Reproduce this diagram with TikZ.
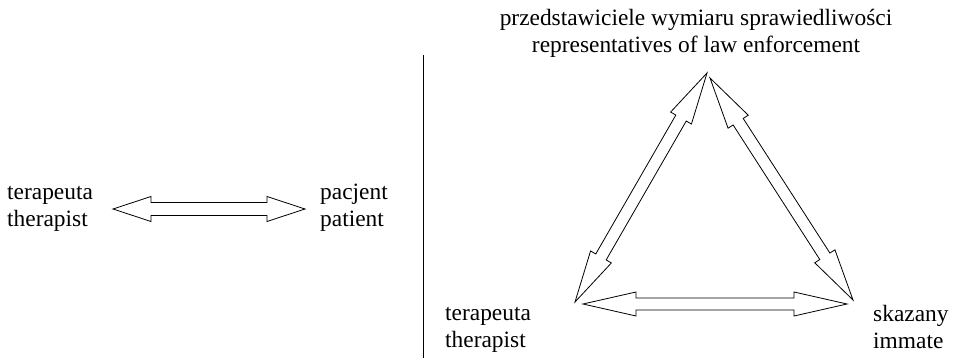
\documentclass[tikz,border=0pt]{standalone}
\usepackage{fontspec}
\setmainfont{Liberation Serif}
\usetikzlibrary{calc}
\tikzset{
  lbl/.style={inner sep=0pt, align=left, font=\fontsize{23.4}{27}\selectfont},
  dblarr/.style={draw=black, line width=0.8pt, line join=miter, fill=white},
  divider/.style={draw=black, line width=1pt}
}
\newcommand\dblarrow[5]{% from, to, head length, head half width, shaft half width
  \draw[dblarr] (#1)
    -- ($(#1)!#3!(#2)!#4!90:(#2)$) -- ($(#1)!#3!(#2)!#5!90:(#2)$)
    -- ($(#2)!#3!(#1)!#5!-90:(#1)$) -- ($(#2)!#3!(#1)!#4!-90:(#1)$)
    -- (#2)
    -- ($(#2)!#3!(#1)!#4!90:(#1)$) -- ($(#2)!#3!(#1)!#5!90:(#1)$)
    -- ($(#1)!#3!(#2)!#5!-90:(#2)$) -- ($(#1)!#3!(#2)!#4!-90:(#2)$)
    -- cycle;}
\begin{document}
\begin{tikzpicture}[x=1pt,y=-1pt]
\useasboundingbox (0,0) rectangle (953,358);
% left part
\node[lbl, anchor=base west] (ter1) at (7,226) {terapeuta\\therapist};
\node[lbl, anchor=base west] (pac) at (320,226) {pacjent\\patient};
\coordinate (l1) at (113,209);
\coordinate (l2) at (305,209);
\dblarrow{l1}{l2}{38pt}{12.5pt}{6.5pt}
% divider
\coordinate (d1) at (423,55);
\coordinate (d2) at (423,358);
\draw[divider] (d1) -- (d2);
% right part
\node[lbl, align=center, anchor=base] (law) at (696,53) {przedstawiciele wymiaru sprawiedliwości\\representatives of law enforcement};
\node[lbl, anchor=base west] (ter2) at (445,347) {terapeuta\\therapist};
\node[lbl, anchor=base west] (ska) at (873,348) {skazany\\immate};
\coordinate (ta) at (707,73);
\coordinate (bl) at (575,302);
\coordinate (tb) at (710,78);
\coordinate (br) at (853,300);
\coordinate (ha) at (583,304);
\coordinate (hb) at (847,304);
\dblarrow{ta}{bl}{52pt}{12pt}{6pt}
\dblarrow{tb}{br}{52pt}{12pt}{6pt}
\dblarrow{ha}{hb}{53pt}{12pt}{6pt}
\end{tikzpicture}
\end{document}
